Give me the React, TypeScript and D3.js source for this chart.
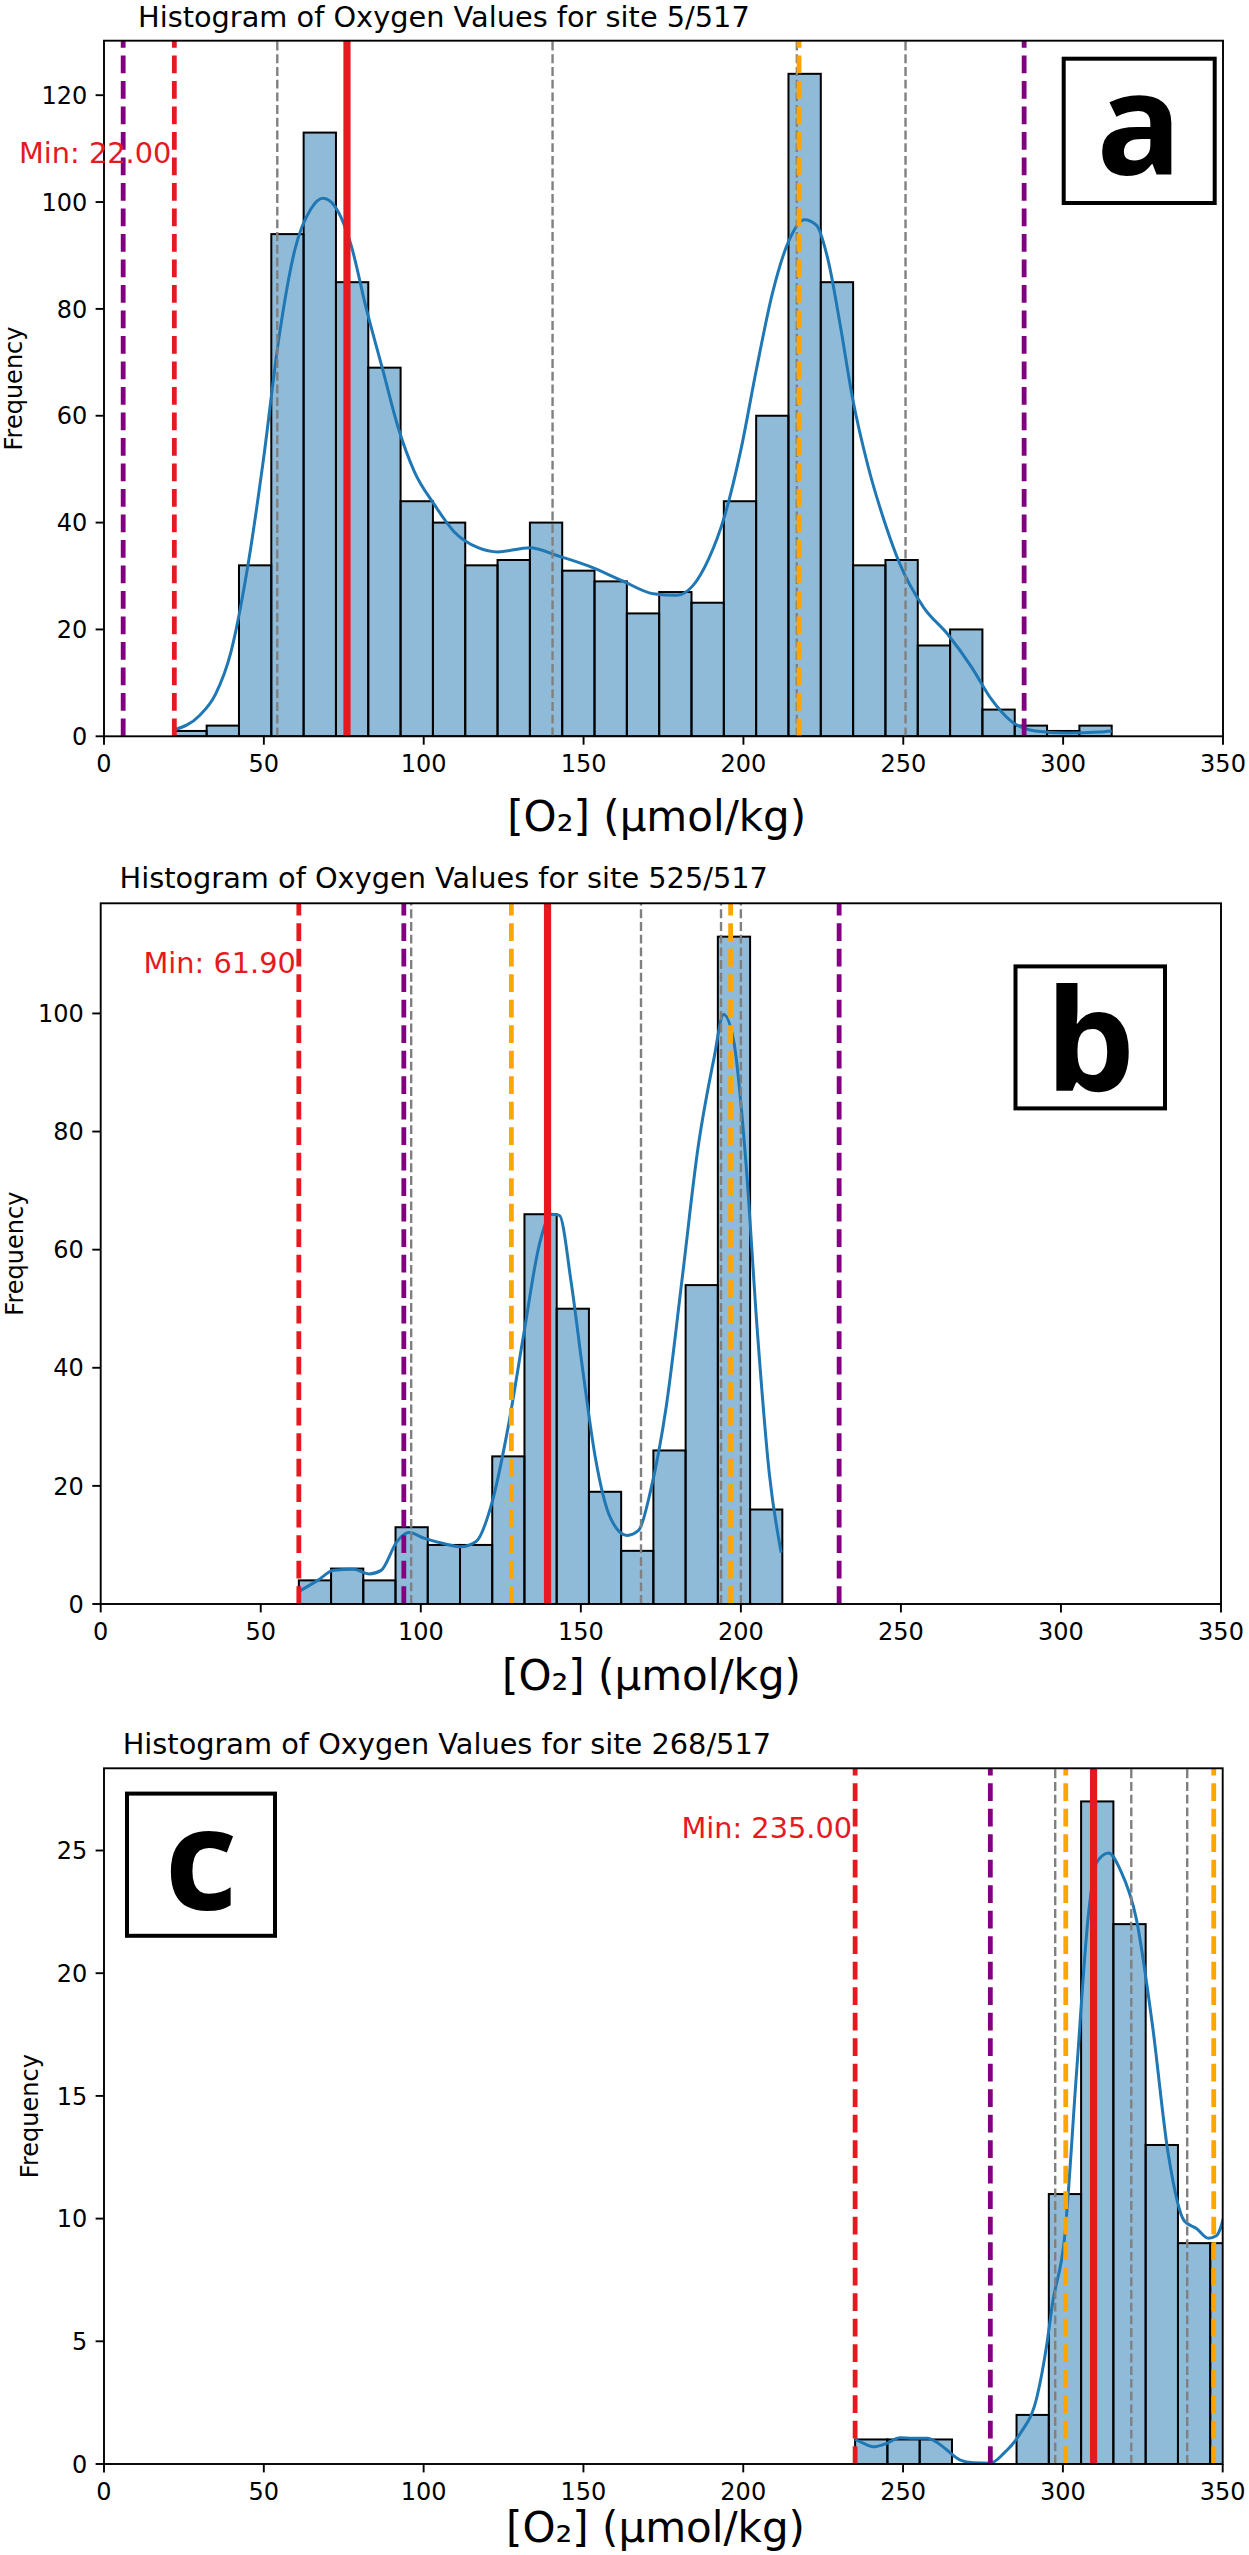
import React, { useEffect, useRef } from "react";
import * as d3 from "d3";

// ---- data ----
const panelLetters = ["a", "b", "c"];
const siteNames = ["5/517", "525/517", "268/517"];
const xTickValues = [0, 50, 100, 150, 200, 250, 300, 350];
const yTickValuesA = [0, 20, 40, 60, 80, 100, 120];
const yTickValuesB = [0, 20, 40, 60, 80, 100];
const yTickValuesC = [0, 5, 10, 15, 20, 25];

const binStarts = [22.0, 61.9, 235.0];
const binWidths = [10.11, 10.07, 10.1];
const countsA = [1, 2, 32, 94, 113, 85, 69, 44, 40, 32, 33, 40, 31, 29, 23, 27, 25, 44, 60, 124, 85, 32, 33, 17, 20, 5, 2, 1, 2];
const countsB = [4, 6, 4, 13, 10, 10, 25, 66, 50, 19, 9, 26, 54, 113, 16];
const countsC = [1, 1, 1, 0, 0, 2, 11, 27, 22, 13, 9, 9];

const kdeA: [number, number][] = [
  [22, 1.2], [29.9, 3.9], [34.9, 7.9], [39.8, 16], [44.8, 31.2], [49.8, 51.5], [54.8, 74.9],
  [59.7, 91.1], [64.7, 98.7], [68.5, 100.7], [72.2, 99.2], [77.2, 92.1], [82.1, 79.9],
  [87.1, 68.8], [92.1, 57.6], [97.1, 49.5], [103.3, 43.4], [109.5, 38.3], [117, 35.3],
  [123.2, 34.5], [133.2, 35.3], [141.9, 33.8], [151.9, 31.8], [161.8, 29.2], [171.8, 26.7],
  [179.2, 26.4], [184.2, 28.2], [189.2, 33.3], [194.2, 41.4], [199.2, 53.6], [204.1, 68.8],
  [209.1, 83], [214.1, 92.6], [219.1, 96.7], [222.8, 95.7], [226.5, 89.1], [230.3, 76.9],
  [234, 63.7], [239, 50.5], [244, 40.4], [248.9, 32.3], [256.4, 24.1], [263.9, 19.1],
  [271.3, 13], [277.6, 6.9], [283.8, 2.8], [291.3, 1], [301.2, 0.6], [311.2, 0.8], [315.2, 1],
];
const kdeB: [number, number][] = [
  [61.9, 2.1], [67.8, 4], [72.8, 5.7], [79, 5.9], [83.9, 5.1], [87.6, 5.7], [92.6, 10.6],
  [96.3, 12.1], [101.2, 11.1], [107.4, 10.2], [112.4, 9.7], [117.3, 10.6], [122.3, 17.3],
  [127.2, 29.7], [132.2, 45.8], [137.1, 61], [140.8, 66], [143.3, 65.8], [147, 54.4],
  [150.7, 39.2], [154.5, 24.9], [159.4, 14.4], [164.4, 11.6], [168.1, 12.5], [171.8, 19.2],
  [176.7, 33.5], [181.7, 55.3], [186.6, 77.2], [191.6, 92.4], [194.6, 99.8], [197.8, 95.2],
  [201.5, 75.3], [205.2, 45.8], [208.9, 22], [212.6, 8.7],
];
const kdeC: [number, number][] = [
  [235, 1.0], [237, 0.88], [240.7, 0.7], [245, 0.85], [249, 1.07], [253, 1.05], [257.5, 1.05],
  [261, 0.85], [263.7, 0.57], [267.9, 0.16], [272, 0.05], [277.3, 0.03], [281.5, 0.43],
  [286.7, 1.25], [291.9, 2.74], [295, 4.9], [296.7, 6.5], [300.5, 9.2], [304.3, 16],
  [308, 22.4], [310.5, 24.5], [314.3, 24.9], [318, 24.2], [323, 22.2], [328, 17.9],
  [333, 12.6], [338, 9.9], [341.8, 9.6], [345.5, 9.2], [348, 9.3], [351.9, 10.9],
];

const minValues = [22.0, 61.9, 235.0];
const meanValues = [76.0, 139.6, 309.6];
const purpleValues = [[6.0, 287.8], [94.7, 230.7], [277.3]];
const orangeValues = [[217.4], [128.3, 196.8], [300.9, 347.2]];
const grayValues = [[54.2, 140.3, 216.7, 250.7], [97.0, 168.8, 193.8, 200.0], [297.6, 321.4, 338.9]];

const allCounts = [countsA, countsB, countsC];
const allKde = [kdeA, kdeB, kdeC];
const allYTicks = [yTickValuesA, yTickValuesB, yTickValuesC];

// ---- layout (page pixels) ----
const layouts = [
  { left: 104, right: 1223, top: 40.7, bottom: 736.3, titleX: 138, titleY: 27, xLabelX: 656.7, xLabelY: 830.7, yLabelX: 22, box: { x: 1061.7, y: 56.7, w: 155, h: 148.3 }, letterY: 175, minLabelY: 163 },
  { left: 100.7, right: 1221, top: 903.3, bottom: 1604, titleX: 119.5, titleY: 888.3, xLabelX: 651.5, xLabelY: 1690, yLabelX: 23, box: { x: 1013.5, y: 964.4, w: 153.5, h: 146 }, letterY: 1091, minLabelY: 973 },
  { left: 104, right: 1222.7, top: 1768.3, bottom: 2464, titleX: 122.7, titleY: 1754, xLabelX: 655.5, xLabelY: 2542, yLabelX: 37.5, box: { x: 125, y: 1791.6, w: 152, h: 146.2 }, letterY: 1910, minLabelY: 1838 },
];

const FONT = "'DejaVu Sans', sans-serif";
const RED = "#e6191e";
const PURPLE = "#800080";
const ORANGE = "#ffa500";
const GRAY = "#808080";
const BLUE = "#1f77b4";

function drawPanel(svg: d3.Selection<SVGSVGElement, unknown, null, undefined>, i: number) {
  const L = layouts[i];
  const counts = allCounts[i];
  const x = d3.scaleLinear().domain([0, 350]).range([L.left, L.right]);
  const y = d3.scaleLinear().domain([0, (d3.max(counts) ?? 1) * 1.05]).range([L.bottom, L.top]);

  const g = svg.append("g");
  const clipId = `clip-${panelLetters[i]}`;
  g.append("clipPath").attr("id", clipId)
    .append("rect")
    .attr("x", L.left).attr("y", L.top)
    .attr("width", L.right - L.left).attr("height", L.bottom - L.top);

  const plot = g.append("g").attr("clip-path", `url(#${clipId})`);

  // Histogram bars
  const bins = counts.map((c, j) => ({ c, x0: binStarts[i] + j * binWidths[i], x1: binStarts[i] + (j + 1) * binWidths[i] }))
    .filter(d => d.c > 0);
  plot.selectAll(".bar")
    .data(bins)
    .join("rect")
    .attr("class", "bar")
    .attr("x", d => x(d.x0))
    .attr("width", d => x(d.x1) - x(d.x0))
    .attr("y", d => y(d.c))
    .attr("height", d => y(0) - y(d.c))
    .attr("fill", BLUE)
    .attr("fill-opacity", 0.5)
    .attr("stroke", "#000")
    .attr("stroke-width", 2);

  // KDE
  const line = d3.line<[number, number]>()
    .x(d => x(d[0]))
    .y(d => y(d[1]))
    .curve(d3.curveMonotoneX);
  plot.append("path")
    .datum(allKde[i])
    .attr("d", line)
    .attr("fill", "none")
    .attr("stroke", BLUE)
    .attr("stroke-width", 3);

  // Vertical reference lines
  const vline = (v: number, color: string, width: number, dash: string | null) => {
    const l = plot.append("line")
      .attr("x1", x(v)).attr("x2", x(v))
      .attr("y1", L.bottom).attr("y2", L.top)
      .attr("stroke", color)
      .attr("stroke-width", width);
    if (dash) l.attr("stroke-dasharray", dash);
  };
  grayValues[i].forEach(v => vline(v, GRAY, 2.4, "8.9,3.8"));
  orangeValues[i].forEach(v => vline(v, ORANGE, 4.8, "17.8,7.7"));
  purpleValues[i].forEach(v => vline(v, PURPLE, 4.8, "17.8,7.7"));
  vline(minValues[i], RED, 4.8, "17.8,7.7");
  vline(meanValues[i], RED, 7.2, null);

  // Frame
  g.append("rect")
    .attr("x", L.left).attr("y", L.top)
    .attr("width", L.right - L.left).attr("height", L.bottom - L.top)
    .attr("fill", "none")
    .attr("stroke", "#000")
    .attr("stroke-width", 1.9);

  // X ticks
  const xt = g.selectAll(".xtick").data(xTickValues).join("g").attr("class", "xtick");
  xt.append("line")
    .attr("x1", d => x(d)).attr("x2", d => x(d))
    .attr("y1", L.bottom).attr("y2", L.bottom + 8.4)
    .attr("stroke", "#000").attr("stroke-width", 1.9);
  xt.append("text")
    .attr("x", d => x(d)).attr("y", L.bottom + 36)
    .attr("text-anchor", "middle")
    .attr("font-family", FONT).attr("font-size", 24)
    .text(d => d);

  // Y ticks
  const yt = g.selectAll(".ytick").data(allYTicks[i]).join("g").attr("class", "ytick");
  yt.append("line")
    .attr("x1", L.left - 8.4).attr("x2", L.left)
    .attr("y1", d => y(d)).attr("y2", d => y(d))
    .attr("stroke", "#000").attr("stroke-width", 1.9);
  yt.append("text")
    .attr("x", L.left - 16.8).attr("y", d => y(d))
    .attr("dy", "0.36em")
    .attr("text-anchor", "end")
    .attr("font-family", FONT).attr("font-size", 24)
    .text(d => d);

  // Labels
  g.append("text")
    .attr("x", L.titleX).attr("y", L.titleY)
    .attr("font-family", FONT).attr("font-size", 28.8)
    .text(`Histogram of Oxygen Values for site ${siteNames[i]}`);

  g.append("text")
    .attr("x", L.xLabelX).attr("y", L.xLabelY)
    .attr("text-anchor", "middle")
    .attr("font-family", FONT).attr("font-size", 42)
    .text("[O\u2082] (\u00b5mol/kg)");

  g.append("text")
    .attr("transform", `translate(${L.yLabelX},${(L.top + L.bottom) / 2}) rotate(-90)`)
    .attr("text-anchor", "middle")
    .attr("font-family", FONT).attr("font-size", 24)
    .text("Frequency");

  g.append("text")
    .attr("x", x(minValues[i]) - 3).attr("y", L.minLabelY)
    .attr("text-anchor", "end")
    .attr("font-family", FONT).attr("font-size", 28.8)
    .attr("fill", RED)
    .text(`Min: ${minValues[i].toFixed(2)}`);

  // Panel letter box
  g.append("rect")
    .attr("x", L.box.x + 2).attr("y", L.box.y + 2)
    .attr("width", L.box.w - 4).attr("height", L.box.h - 4)
    .attr("fill", "#fff")
    .attr("stroke", "#000")
    .attr("stroke-width", 4);
  g.append("text")
    .attr("x", L.box.x + L.box.w / 2).attr("y", L.letterY)
    .attr("text-anchor", "middle")
    .attr("font-family", "'Open Sans', 'Noto Sans', sans-serif")
    .attr("font-weight", 700)
    .attr("font-size", 142)
    .text(panelLetters[i]);
}

export default function App() {
  const svgRef = useRef<SVGSVGElement>(null);

  useEffect(() => {
    if (!svgRef.current) return;
    const svg = d3.select(svgRef.current);
    svg.selectAll("*").remove();
    panelLetters.forEach((_, i) => drawPanel(svg, i));
  }, []);

  return (
    <div style={{ position: "absolute", left: 0, top: 0 }}>
      <svg ref={svgRef} width={1249} height={2555} style={{ display: "block", background: "#fff" }} />
    </div>
  );
}
